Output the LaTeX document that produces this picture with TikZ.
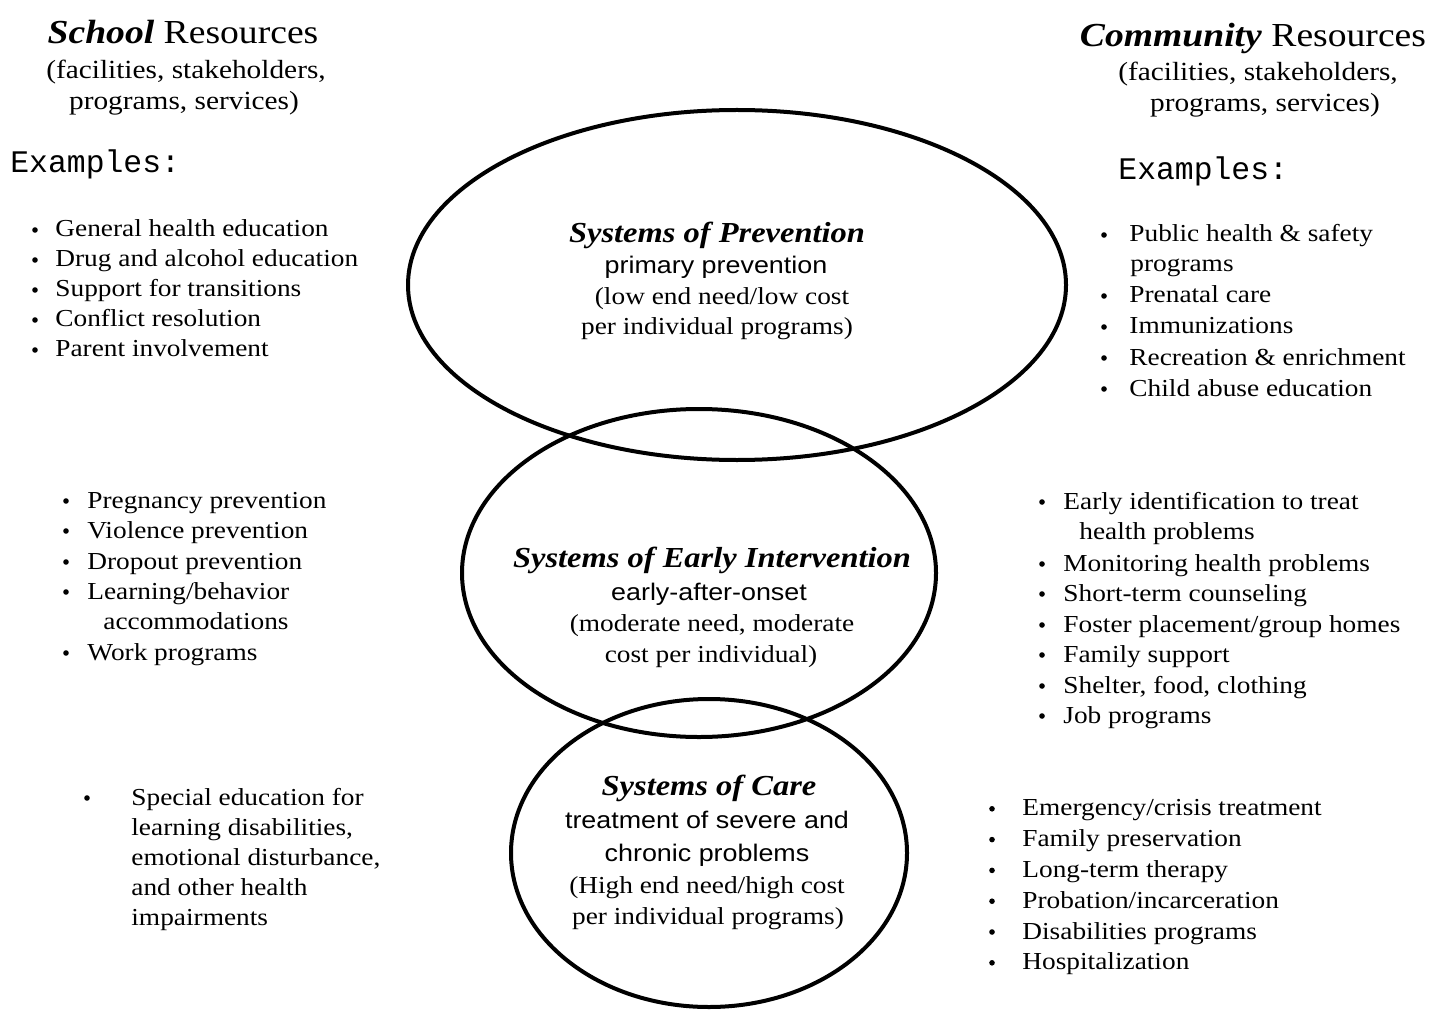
\documentclass[tikz,border=0pt]{standalone}
\usepackage{fontspec}
\setmainfont{Liberation Serif}[FakeStretch=1.12]
\setsansfont{Liberation Sans}[FakeStretch=1.12]
\setmonofont{Liberation Mono}
\tikzset{
  head/.style={font=\fontsize{16.8}{18}\selectfont, anchor=base, inner sep=0pt},
  sub/.style={font=\fontsize{13.1}{15}\selectfont, anchor=base, inner sep=0pt},
  ex/.style={font=\ttfamily\fontsize{15.7}{17}\selectfont, anchor=base west, inner sep=0pt},
  item/.style={font=\fontsize{12.2}{14}\selectfont, anchor=base west, inner sep=0pt},
  note/.style={item, anchor=base},
  bul/.style={circle, fill, inner sep=0pt, minimum size=2.8pt},
  sys/.style={font=\bfseries\itshape\fontsize{14.5}{16}\selectfont, anchor=base, inner sep=0pt},
  sans/.style={font=\sffamily\fontsize{12}{14}\selectfont, anchor=base, inner sep=0pt},
  oval/.style={line width=2pt}
}
\begin{document}
\begin{tikzpicture}[x=0.5pt,y=-0.5pt]
  \useasboundingbox (0,0) rectangle (1443,1010);
  % the three systems
  \draw[oval] (737,285) ellipse [x radius=329, y radius=175];
  \draw[oval] (699,573) ellipse [x radius=237, y radius=164];
  \draw[oval] (709,853) ellipse [x radius=198, y radius=154];

  \node[sys] (prev) at (717,243) {Systems of Prevention};
  \node[sans] (prev-a) at (716,274) {primary prevention};
  \node[note] (prev-b) at (722,305) {(low end need/low cost};
  \node[note] (prev-c) at (717,335) {per individual programs)};

  \node[sys] (early) at (712,567) {Systems of Early Intervention};
  \node[sans] (early-a) at (709,600) {early-after-onset};
  \node[note] (early-b) at (712,631) {(moderate need, moderate};
  \node[note] (early-c) at (711,662) {cost per individual)};

  \node[sys] (care) at (709,795) {Systems of Care};
  \node[sans] (care-a) at (707,828) {treatment of severe and};
  \node[sans] (care-b) at (707,861) {chronic problems};
  \node[note] (care-c) at (707,893) {(High end need/high cost};
  \node[note] (care-d) at (708,924) {per individual programs)};

  % school side
  \node[head] (school) at (183,44) {\textbf{\textit{School}} Resources};
  \node[sub] (school-a) at (186,79) {(facilities, stakeholders,};
  \node[sub] (school-b) at (184,110) {programs, services)};
  \node[ex] (school-ex) at (10,173) {Examples:};
  \foreach \t [count=\i] in {General health education, Drug and alcohol education,
      Support for transitions, Conflict resolution, Parent involvement}{
    \node[item] (sch-\i) at (55,{207+30*\i}) {\t};
    \node[bul] (schb-\i) at (35,{200+30*\i}) {};
  }
  \foreach \t/\y [count=\i] in {Pregnancy prevention/508, Violence prevention/538,
      Dropout prevention/569, {Learning/behavior}/599, Work programs/660}{
    \node[item] (scm-\i) at (87,\y) {\t};
    \node[bul] (scmb-\i) at (66,\y-7) {};
  }
  \node[item] (scm-x) at (103,629) {accommodations};
  \node[bul] (scc-b) at (87,798) {};
  \foreach \t [count=\i] in {Special education for, {learning disabilities,},
      {emotional disturbance,}, and other health, impairments}{
    \node[item] (scc-\i) at (131,{775+30*\i}) {\t};
  }

  % community side
  \node[head] (comm) at (1253,47) {\textbf{\textit{Community}} Resources};
  \node[sub] (comm-a) at (1258,81) {(facilities, stakeholders,};
  \node[sub] (comm-b) at (1265,112) {programs, services)};
  \node[ex] (comm-ex) at (1118,180) {Examples:};
  \foreach \t/\y [count=\i] in {Public health \& safety/242, Prenatal care/303,
      Immunizations/334, Recreation \& enrichment/365, Child abuse education/396}{
    \node[item] (com-\i) at (1129,\y) {\t};
    \node[bul] (comb-\i) at (1104,\y-7) {};
  }
  \node[item] (com-x) at (1130,272) {programs};
  \foreach \t/\y [count=\i] in {Early identification to treat/509,
      Monitoring health problems/571, Short-term counseling/601,
      {Foster placement/group homes}/632, Family support/662,
      {Shelter, food, clothing}/693, Job programs/723}{
    \node[item] (cmm-\i) at (1063,\y) {\t};
    \node[bul] (cmmb-\i) at (1042,\y-7) {};
  }
  \node[item] (cmm-x) at (1079,539) {health problems};
  \foreach \t [count=\i] in {Emergency/crisis treatment, Family preservation,
      Long-term therapy, Probation/incarceration, Disabilities programs,
      Hospitalization}{
    \node[item] (cmc-\i) at (1022,{785+30.8*\i}) {\t};
    \node[bul] (cmcb-\i) at (992,{778+30.8*\i}) {};
  }
\end{tikzpicture}
\end{document}
